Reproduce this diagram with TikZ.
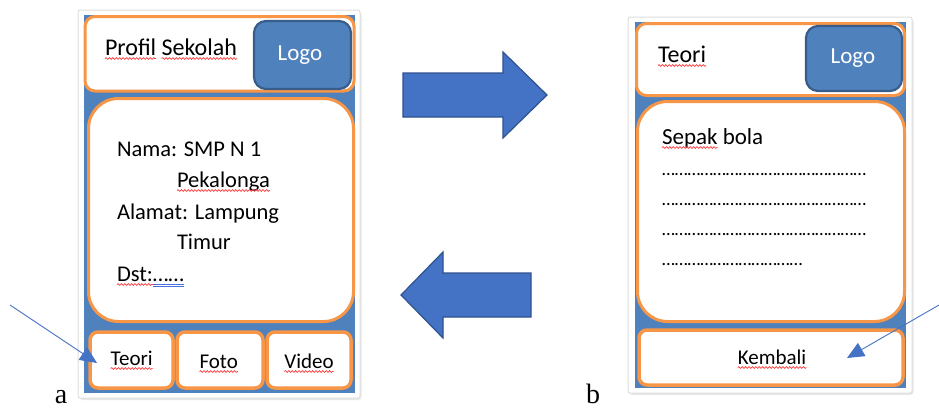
\documentclass[tikz,border=0pt]{standalone}
\usepackage{fontspec}
\setmainfont{Carlito}
\newfontfamily\seriffont{Liberation Serif}
\usetikzlibrary{arrows.meta,decorations.pathmorphing}

\definecolor{orng}{HTML}{F79646}
\definecolor{screenblue}{HTML}{4F81BD}
\definecolor{logoedge}{HTML}{385D8A}
\definecolor{arrowblue}{HTML}{4472C4}
\definecolor{arrowedge}{HTML}{2F528F}
\definecolor{spellred}{HTML}{FF3B3B}
\definecolor{gramblue}{HTML}{4A6FE0}

\newcommand\fsz[1]{\fontsize{#1}{#1}\selectfont}

\tikzset{
  phone/.style={draw=black!13, fill=white, line width=1pt, rounded corners=2pt, inner sep=0, outer sep=0},
  phoneshadow/.style={fill=black!9, rounded corners=3pt, inner sep=0, outer sep=0},
  screen/.style={fill=screenblue, inner sep=0, outer sep=0},
  panel/.style={draw=orng, line width=3pt, fill=white, inner sep=0, outer sep=0},
  btnbox/.style={draw=orng, line width=3.5pt, fill=white, rounded corners=8pt, inner sep=0, outer sep=0},
  logobox/.style={draw=logoedge, line width=2.2pt, fill=screenblue, rounded corners=12pt,
    inner sep=0, outer sep=0},
  word/.style={inner sep=0, outer sep=0, anchor=base west},
  cword/.style={inner sep=0, outer sep=0, anchor=base},
  squig/.style={spellred, line width=0.7pt, decorate,
    decoration={snake, amplitude=0.9pt, segment length=3.4pt}},
  gram/.style={gramblue, line width=0.6pt},
  dotline/.style={word, font=\fsz{18.5}},
  bigarrow/.style={fill=arrowblue, draw=arrowedge, line width=1.2pt, line join=miter},
  pointer/.style={arrowblue, line width=0.9pt, -{Triangle[length=17pt, width=15pt]}},
}

\begin{document}
\begin{tikzpicture}[x=1pt, y=-1pt]
\useasboundingbox (0,0) rectangle (939,410);

% ---------------- left screen: school profile ----------------
\node[phoneshadow, minimum width=282pt, minimum height=388pt] at (220.5,206) {};
\node[phone, minimum width=282pt, minimum height=388pt] (lphone) at (219,204) {};
\node[screen, minimum width=271pt, minimum height=378pt] (lscreen) at (219.5,204) {};

\node[panel, rounded corners=10pt, minimum width=269pt, minimum height=74.5pt] (lhead) at (219.5,53.75) {};
\node[logobox, minimum width=97pt, minimum height=68pt] (llogo) at (302.5,55) {};
\node[cword, text=white, font=\fsz{23}] (llogotxt) at (300,60) {Logo};

\node[word, font=\fsz{24}] (prof) at (105,55) {Profil};
\node[word, font=\fsz{24}] (sek) at ([xshift=5.4pt]prof.base east) {Sekolah};
\draw[squig] ([yshift=-3.5pt]prof.base west) -- ([yshift=-3.5pt]prof.base east);
\draw[squig] ([yshift=-3.5pt]sek.base west) -- ([yshift=-3.5pt]sek.base east);

\node[panel, rounded corners=30pt, minimum width=265pt, minimum height=223pt] (lbody) at (221,210) {};
\node[word, font=\fsz{22.5}] (nama) at (117,156) {Nama: SMP N 1};
\node[word, font=\fsz{22.5}] (pek) at (177,187) {Pekalonga};
\node[word, font=\fsz{22.5}] (alamat) at (117,219) {Alamat: Lampung};
\node[word, font=\fsz{22.5}] (timur) at (177,249) {Timur};
\node[word, font=\fsz{22.5}] (dst) at (117,281) {Dst:};
\node[word, font=\fsz{22.5}] (dstdots) at (dst.base east) {……};
\draw[squig] ([yshift=-3.5pt]pek.base west) -- ([yshift=-3.5pt]pek.base east);
\draw[squig] ([yshift=-3.5pt]dst.base west) -- ([yshift=-3.5pt]dst.base east);
\draw[gram] ([yshift=-3pt]dstdots.base west) -- ([yshift=-3pt]dstdots.base east);
\draw[gram] ([yshift=-5pt]dstdots.base west) -- ([yshift=-5pt]dstdots.base east);

\node[btnbox, minimum width=83pt, minimum height=56pt] (bteori) at (131.5,360) {};
\node[btnbox, minimum width=86pt, minimum height=56pt] (bfoto) at (220,360) {};
\node[btnbox, minimum width=84pt, minimum height=56pt] (bvideo) at (309,360) {};
\node[cword, font=\fsz{21}] (tteori) at (131.7,365) {Teori};
\node[cword, font=\fsz{21}] (tfoto) at (218.7,368) {Foto};
\node[cword, font=\fsz{21}] (tvideo) at (309,368) {Video};
\foreach \w in {tteori,tfoto,tvideo}
  \draw[squig] ([yshift=-3.5pt]\w.base west) -- ([yshift=-3.5pt]\w.base east);

\node[cword, font={\seriffont\fsz{28}}] (lbla) at (61,403) {a};

\coordinate (pa) at (10,305);
\coordinate (pahit) at (97,363);
\draw[pointer] (pa) -- (pahit);

% ---------------- navigation arrows ----------------
\draw[bigarrow] (403,73) -- (503,73) -- (503,52) -- (547,95) -- (503,138) -- (503,117) -- (403,117) -- cycle;
\draw[bigarrow] (531,273) -- (443,273) -- (443,252) -- (401,295) -- (443,338) -- (443,317) -- (531,317) -- cycle;

% ---------------- right screen: theory page ----------------
\node[phoneshadow, minimum width=284pt, minimum height=376pt] at (771.5,207) {};
\node[phone, minimum width=284pt, minimum height=376pt] (rphone) at (770,205) {};
\node[screen, minimum width=271pt, minimum height=366pt] (rscreen) at (770.5,205) {};

\node[panel, rounded corners=10pt, minimum width=268pt, minimum height=72pt] (rhead) at (770.5,59.5) {};
\node[logobox, minimum width=96pt, minimum height=65pt] (rlogo) at (854,58.5) {};
\node[cword, text=white, font=\fsz{23}] (rlogotxt) at (853,63) {Logo};
\node[word, font=\fsz{24}] (rteori) at (658,62) {Teori};
\draw[squig] ([yshift=-3.5pt]rteori.base west) -- ([yshift=-3.5pt]rteori.base east);

\node[panel, rounded corners=30pt, minimum width=267pt, minimum height=220pt] (rbody) at (771,211.5) {};
\node[word, font=\fsz{23}] (sepak) at (662,144) {Sepak};
\node[word, font=\fsz{23}] (bola) at ([xshift=5.2pt]sepak.base east) {bola};
\draw[squig] ([yshift=-3.5pt]sepak.base west) -- ([yshift=-3.5pt]sepak.base east);
\node[dotline] (dots1) at (662,175) {…………………………………………};
\node[dotline] (dots2) at (662,205) {…………………………………………};
\node[dotline] (dots3) at (662,235) {…………………………………………};
\node[dotline] (dots4) at (662,265) {……………………………};

\node[btnbox, minimum width=264pt, minimum height=55pt] (bkembali) at (771,357.5) {};
\node[cword, font=\fsz{21}] (tkembali) at (772,364) {Kembali};
\draw[squig] ([yshift=-3.5pt]tkembali.base west) -- ([yshift=-3.5pt]tkembali.base east);

\node[cword, font={\seriffont\fsz{28}}] (lblb) at (593,403) {b};

\coordinate (pb) at (939,305);
\coordinate (pbhit) at (847,358);
\draw[pointer] (pb) -- (pbhit);
\end{tikzpicture}
\end{document}
